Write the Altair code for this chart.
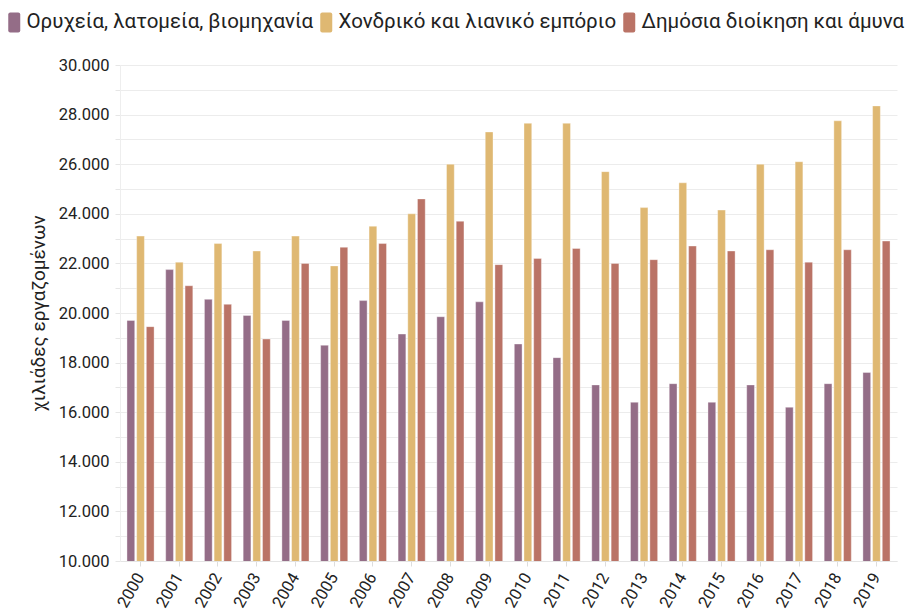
import altair as alt
import pandas as pd

years = [str(y) for y in range(2000, 2020)]
series = ["Ορυχεία, λατομεία, βιομηχανία", "Χονδρικό και λιανικό εμπόριο", "Δημόσια διοίκηση και άμυνα"]
mining = [19700, 21750, 20550, 19900, 19700, 18700, 20500, 19150, 19850, 20450,
          18750, 18200, 17100, 16400, 17150, 16400, 17100, 16200, 17150, 17600]
trade = [23100, 22050, 22800, 22500, 23100, 21900, 23500, 24000, 26000, 27300,
         27650, 27650, 25700, 24250, 25250, 24150, 26000, 26100, 27750, 28350]
public = [19450, 21100, 20350, 18950, 22000, 22650, 22800, 24600, 23700, 21950,
          22200, 22600, 22000, 22150, 22700, 22500, 22550, 22050, 22550, 22900]
colors = ["#946d87", "#dfb872", "#ba7366"]

rows = []
for i, y in enumerate(years):
    for s, vals in zip(series, [mining, trade, public]):
        rows.append({"year": y, "series": s, "value": vals[i]})
df = pd.DataFrame(rows)

FONT = "Roboto"
SYMBOL = ("M-0.6,-0.8 Q-0.6,-1 -0.4,-1 L0.4,-1 Q0.6,-1 0.6,-0.8 "
          "L0.6,0.8 Q0.6,1 0.4,1 L-0.4,1 Q-0.6,1 -0.6,0.8 Z")

chart = alt.Chart(df).mark_bar(stroke="white", strokeWidth=0.6, strokeOpacity=0.6, clip=True).encode(
    x=alt.X("year:N", sort=years, scale=alt.Scale(paddingInner=0.3, paddingOuter=0.18),
            axis=alt.Axis(title=None, labelAngle=-60, labelFontSize=16.5, labelColor="#222",
                          labelFont=FONT, tickColor="#dddddd", domainColor="#e4e4e4",
                          labelPadding=8, labelAlign="right", labelBaseline="middle", grid=False)),
    xOffset=alt.XOffset("series:N", sort=series, scale=alt.Scale(paddingInner=0.2)),
    y=alt.Y("value:Q", scale=alt.Scale(domain=[10000, 30000], nice=False, zero=False),
            axis=alt.Axis(title="χιλιάδες εργαζομένων", titleFontSize=19, titleFont=FONT,
                          titleFontWeight="normal", titleColor="#222", titlePadding=10,
                          values=list(range(10000, 30001, 1000)),
                          labelExpr="datum.value % 2000 == 0 ? replace(format(datum.value, ','), ',', '.') : ''",
                          labelFontSize=16.5, labelFont=FONT, labelColor="#222", labelPadding=6,
                          tickColor="#e6e6e6", gridColor="#ececec", domainColor="#eeeeee")),
    color=alt.Color("series:N", sort=series,
                    scale=alt.Scale(domain=series, range=colors),
                    legend=alt.Legend(title=None, orient="none", direction="horizontal",
                                      legendX=-116, legendY=-53, labelFontSize=20.5,
                                      labelFont=FONT, labelColor="#222", symbolType=SYMBOL,
                                      symbolSize=400, symbolStrokeWidth=0, columnPadding=2,
                                      labelOffset=2, symbolOpacity=1, labelLimit=0)),
).properties(
    width=777, height=496,
    autosize=alt.AutoSizeParams(type="none"),
    padding={"left": 112, "top": 57, "right": 8, "bottom": 50},
).configure_view(stroke=None)

chart.save("out.html", embed_options={"renderer": "svg", "actions": False})
